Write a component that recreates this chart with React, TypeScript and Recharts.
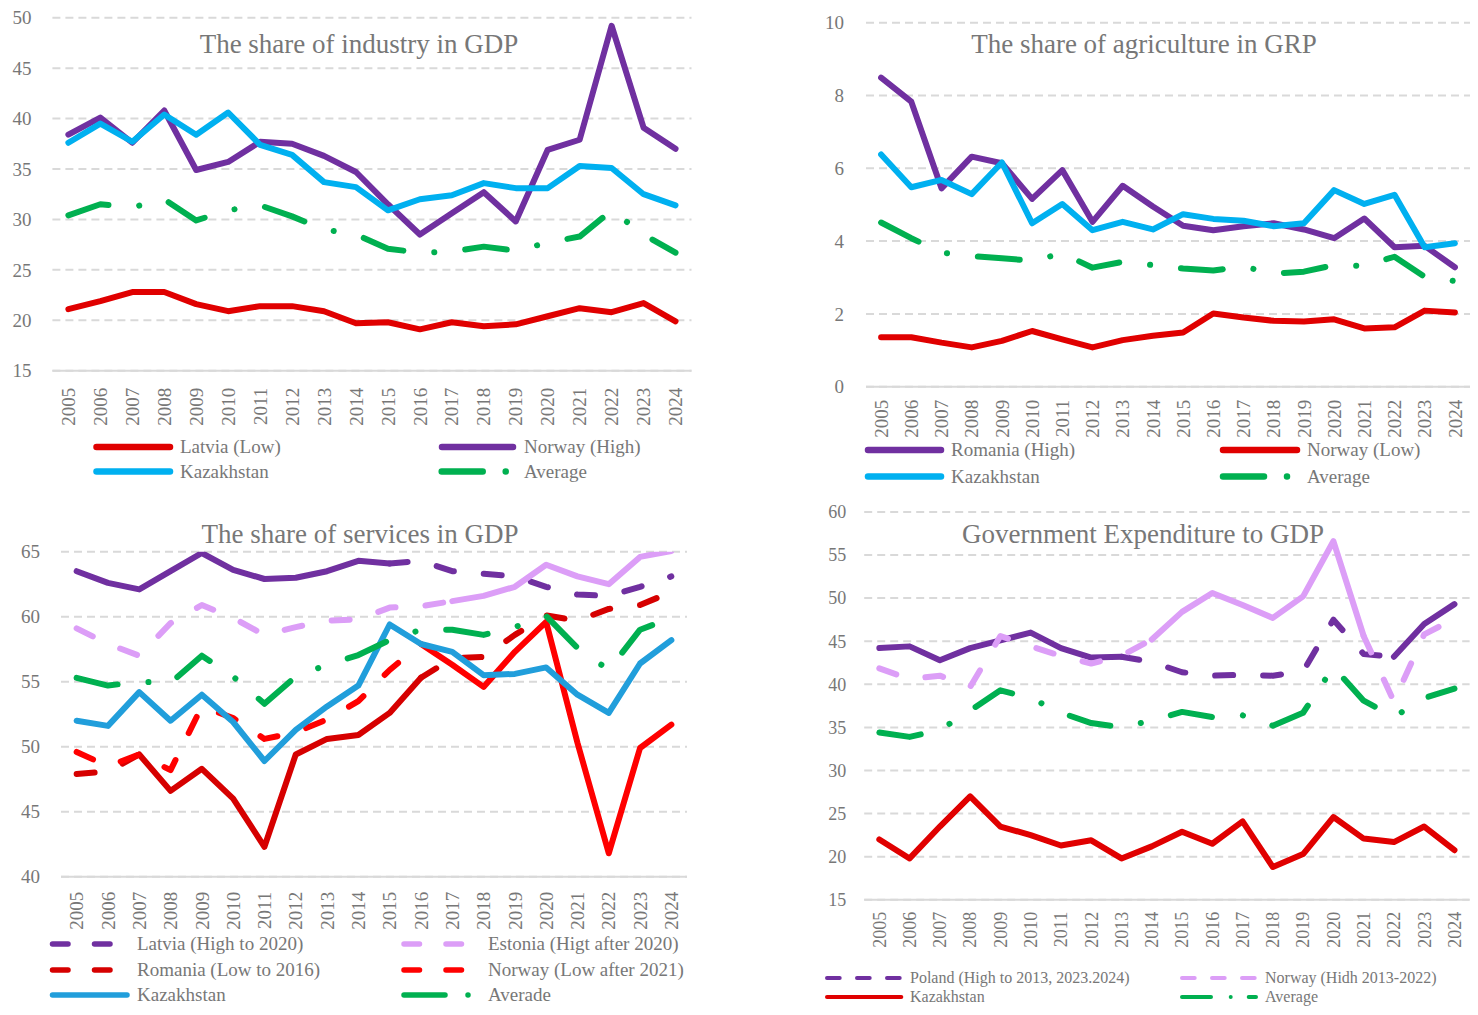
import { CartesianGrid, Line, LineChart, XAxis, YAxis } from "recharts";

const YEARS = [
  "2005", "2006", "2007", "2008", "2009", "2010", "2011", "2012", "2013", "2014",
  "2015", "2016", "2017", "2018", "2019", "2020", "2021", "2022", "2023", "2024",
];

// industry, % of GDP
const INDUSTRY_LATVIA = [21.1, 21.9, 22.8, 22.8, 21.6, 20.9, 21.4, 21.4, 20.9, 19.7, 19.8, 19.1, 19.8, 19.4, 19.6, 20.4, 21.2, 20.8, 21.7, 19.9];
const INDUSTRY_NORWAY = [38.4, 40.1, 37.6, 40.8, 34.9, 35.7, 37.7, 37.5, 36.3, 34.7, 31.5, 28.5, 30.6, 32.7, 29.8, 36.9, 37.9, 49.2, 39.1, 37.0];
const INDUSTRY_KAZ = [37.6, 39.5, 37.7, 40.4, 38.4, 40.6, 37.4, 36.4, 33.7, 33.2, 30.9, 32.0, 32.4, 33.6, 33.1, 33.1, 35.3, 35.1, 32.5, 31.4];
const INDUSTRY_AVG = [30.4, 31.5, 31.2, 32.0, 29.9, 30.9, 31.4, 30.3, 29.0, 28.5, 27.1, 26.7, 26.8, 27.3, 26.9, 27.7, 28.3, 30.9, 28.5, 26.7];

// agriculture, % of GRP
const AGRI_ROMANIA = [8.49, 7.83, 5.45, 6.32, 6.14, 5.16, 5.95, 4.53, 5.52, 4.95, 4.42, 4.3, 4.41, 4.49, 4.32, 4.08, 4.62, 3.83, 3.87, 3.28];
const AGRI_NORWAY = [1.36, 1.36, 1.21, 1.08, 1.26, 1.53, 1.3, 1.08, 1.28, 1.4, 1.49, 2.01, 1.9, 1.81, 1.79, 1.85, 1.6, 1.63, 2.09, 2.04];
const AGRI_KAZ = [6.38, 5.48, 5.68, 5.29, 6.16, 4.49, 5.02, 4.3, 4.53, 4.32, 4.74, 4.61, 4.56, 4.41, 4.49, 5.4, 5.02, 5.27, 3.83, 3.94];
const AGRI_AVG = [4.51, 4.08, 3.68, 3.59, 3.53, 3.46, 3.66, 3.27, 3.43, 3.34, 3.25, 3.19, 3.3, 3.11, 3.16, 3.34, 3.32, 3.57, 3.02, 2.9];

// services, % of GDP
const SERV_LATVIA = [63.5, 62.6, 62.1, 63.5, 64.9, 63.6, 62.9, 63.0, 63.5, 64.3, 64.1, 64.3, 63.5, 63.3, 63.1, 62.3, 61.7, 61.6, 62.3, 63.1];
const SERV_ESTONIA = [59.1, 57.9, 57.0, 59.5, 60.9, 59.9, 58.6, 59.2, 59.7, 59.8, 60.7, 60.8, 61.2, 61.6, 62.3, 64.0, 63.1, 62.5, 64.6, 65.05];
const SERV_ROMANIA = [47.9, 48.1, 49.4, 46.6, 48.3, 46.0, 42.3, 49.4, 50.6, 50.9, 52.6, 55.3, 56.8, 56.9, 58.6, 60.1, 59.7, 60.6, 60.9, 61.9];
const SERV_NORWAY = [49.6, 48.5, 49.4, 48.2, 53.1, 52.2, 50.6, 51.1, 52.1, 53.5, 55.9, 57.9, 56.3, 54.6, 57.3, 59.6, 50.3, 41.8, 49.9, 51.7];
const SERV_KAZ = [52.0, 51.6, 54.2, 52.0, 54.0, 51.9, 48.9, 51.3, 53.1, 54.7, 59.4, 57.9, 57.3, 55.5, 55.6, 56.1, 54.0, 52.6, 56.4, 58.2];
const SERV_AVG = [55.3, 54.7, 55.0, 54.9, 57.0, 55.4, 53.3, 55.4, 56.3, 57.05, 58.2, 59.0, 59.0, 58.6, 59.2, 60.05, 57.6, 55.9, 59.0, 59.9];

// government expenditure, % of GDP
const GOV_POLAND = [44.2, 44.4, 42.8, 44.2, 45.1, 46.0, 44.2, 43.1, 43.2, 42.6, 41.4, 41.0, 41.1, 41.0, 41.5, 47.5, 43.5, 43.2, 47.0, 49.3];
const GOV_NORWAY = [41.85, 40.6, 41.0, 39.7, 45.6, 44.4, 43.3, 42.4, 43.3, 45.2, 48.4, 50.6, 49.2, 47.7, 50.2, 56.6, 45.6, 38.0, 45.8, 47.6];
const GOV_KAZ = [22.0, 19.8, 23.5, 27.0, 23.5, 22.5, 21.3, 21.9, 19.8, 21.2, 22.9, 21.5, 24.1, 18.8, 20.3, 24.6, 22.1, 21.7, 23.5, 20.75];
const GOV_AVG = [34.4, 33.9, 34.7, 36.95, 39.3, 38.4, 36.7, 35.5, 35.0, 35.8, 36.8, 36.2, 36.4, 35.2, 36.7, 42.0, 38.1, 36.2, 38.4, 39.5];

const INDUSTRY_TICKS = [15, 20, 25, 30, 35, 40, 45, 50];
const AGRI_TICKS = [0, 2, 4, 6, 8, 10];
const SERV_TICKS = [40, 45, 50, 55, 60, 65];
const GOV_TICKS = [15, 20, 25, 30, 35, 40, 45, 50, 55, 60];

const FONT = '"Liberation Serif", "Times New Roman", serif';
const TEXT = "#777777";
const GRID = "#d9d9d9";
const PURPLE = "#7030a0";
const LILAC = "#dc9ef7";
const RED = "#e00000";
const DARK_RED = "#d60000";
const BRIGHT_RED = "#ff0000";
const CYAN = "#00b0f0";
const BLUE = "#219edb";
const GREEN = "#00b050";

const DASH = "18 30";
const DASH_DOT = "42 31 0.1 31";

type Frame = { x: number; y: number; w: number; h: number; left: number; right: number; top: number; bottom: number };

// keep only the points whose index falls in one of the ranges
function pick(values: number[], ranges: [number, number][]) {
  return values.map((v, i) => (ranges.some(([a, b]) => i >= a && i <= b) ? v : null));
}

function buildRows(cols: Record<string, (number | null)[]>) {
  return YEARS.map((year, i) => {
    const row: Record<string, string | number | null> = { year };
    Object.entries(cols).forEach(([key, values]) => {
      row[key] = values[i];
    });
    return row;
  });
}

const industryRows = buildRows({ latvia: INDUSTRY_LATVIA, norway: INDUSTRY_NORWAY, kaz: INDUSTRY_KAZ, avg: INDUSTRY_AVG });
const agriRows = buildRows({ romania: AGRI_ROMANIA, norway: AGRI_NORWAY, kaz: AGRI_KAZ, avg: AGRI_AVG });
const servRows = buildRows({
  latviaSolid: pick(SERV_LATVIA, [[0, 10]]),
  latviaDash: pick(SERV_LATVIA, [[10, 19]]),
  estoniaDash: pick(SERV_ESTONIA, [[0, 12]]),
  estoniaSolid: pick(SERV_ESTONIA, [[12, 19]]),
  romaniaDash: pick(SERV_ROMANIA, [[0, 2], [11, 19]]),
  romaniaSolid: pick(SERV_ROMANIA, [[2, 11]]),
  norwayDash: pick(SERV_NORWAY, [[0, 11]]),
  norwaySolid: pick(SERV_NORWAY, [[11, 19]]),
  kaz: SERV_KAZ,
  avg: SERV_AVG,
});
const govRows = buildRows({
  polandSolid: pick(GOV_POLAND, [[0, 8], [17, 19]]),
  polandDash: pick(GOV_POLAND, [[8, 17]]),
  norwayDash: pick(GOV_NORWAY, [[0, 9], [16, 19]]),
  norwaySolid: pick(GOV_NORWAY, [[9, 16]]),
  kaz: GOV_KAZ,
  avg: GOV_AVG,
});

function series(key: string, color: string, dash?: string) {
  return (
    <Line
      key={key}
      type="linear"
      dataKey={key}
      stroke={color}
      strokeWidth={6}
      strokeDasharray={dash}
      strokeLinecap="round"
      strokeLinejoin="round"
      dot={false}
      activeDot={false}
      connectNulls={false}
      isAnimationActive={false}
    />
  );
}

function YearTick({ x, y, payload, gap, size }: any) {
  return (
    <text
      transform={`translate(${x},${y + gap}) rotate(-90)`}
      textAnchor="end"
      dy="0.35em"
      fill={TEXT}
      fontSize={size}
      fontFamily={FONT}
    >
      {payload.value}
    </text>
  );
}

function Panel({ frame, domain, ticks, rows, labelSize, yGap, yearGap, children }: any) {
  const band = (frame.right - frame.left) / YEARS.length;
  return (
    <div style={{ position: "absolute", left: frame.x, top: frame.y }}>
      <LineChart
        width={frame.w}
        height={frame.h}
        data={rows}
        margin={{ top: frame.top - frame.y, right: frame.x + frame.w - frame.right, bottom: 0, left: 0 }}
      >
        <CartesianGrid vertical={false} stroke={GRID} strokeWidth={2} strokeDasharray="8 5" />
        <XAxis
          dataKey="year"
          interval={0}
          height={frame.y + frame.h - frame.bottom}
          padding={{ left: band / 2, right: band / 2 }}
          axisLine={{ stroke: GRID, strokeWidth: 2 }}
          tickLine={false}
          tickSize={0}
          tickMargin={0}
          tick={(p: any) => <YearTick {...p} gap={yearGap} size={labelSize} />}
        />
        <YAxis
          type="number"
          width={frame.left - frame.x}
          domain={domain}
          ticks={ticks}
          interval={0}
          allowDataOverflow
          axisLine={false}
          tickLine={false}
          tickSize={0}
          tickMargin={yGap}
          tick={{ fill: TEXT, fontSize: labelSize, fontFamily: FONT }}
        />
        {children}
      </LineChart>
    </div>
  );
}

const INDUSTRY_FRAME: Frame = { x: 0, y: 0, w: 700, h: 440, left: 52.4, right: 691.5, top: 17.7, bottom: 370.7 };
const AGRI_FRAME: Frame = { x: 740, y: 0, w: 738, h: 440, left: 866, right: 1470, top: 22.7, bottom: 386.7 };
const SERV_FRAME: Frame = { x: 0, y: 500, w: 700, h: 440, left: 61, right: 687, top: 551.7, bottom: 876.7 };
const GOV_FRAME: Frame = { x: 740, y: 500, w: 738, h: 465, left: 864.2, right: 1469.6, top: 511.9, bottom: 899.8 };

const TITLES = [
  { text: "The share of industry in GDP", x: 359, y: 53 },
  { text: "The share of agriculture in GRP", x: 1144, y: 53 },
  { text: "The share of services in GDP", x: 360, y: 543 },
  { text: "Government Expenditure to GDP", x: 1143, y: 543 },
];

type LegendItem = { label: string; color: string; x1: number; x2: number; y: number; tx: number; dash?: string };

const LEGEND_INDUSTRY: LegendItem[] = [
  { label: "Latvia (Low)", color: RED, x1: 96.5, x2: 170, y: 447, tx: 180 },
  { label: "Norway (High)", color: PURPLE, x1: 442, x2: 513, y: 447, tx: 524 },
  { label: "Kazakhstan", color: CYAN, x1: 96.5, x2: 170, y: 471.5, tx: 180 },
  { label: "Average", color: GREEN, x1: 441.7, x2: 513, y: 471.5, tx: 524, dash: "41 23 0.01 100" },
];

const LEGEND_AGRI: LegendItem[] = [
  { label: "Romania (High)", color: PURPLE, x1: 868, x2: 941, y: 450, tx: 951 },
  { label: "Norway (Low)", color: RED, x1: 1223, x2: 1297, y: 450, tx: 1307 },
  { label: "Kazakhstan", color: CYAN, x1: 868, x2: 941, y: 476.5, tx: 951 },
  { label: "Average", color: GREEN, x1: 1223, x2: 1297, y: 476.5, tx: 1307, dash: "41 23 0.01 100" },
];

const LEGEND_SERV: LegendItem[] = [
  { label: "Latvia (High to 2020)", color: PURPLE, x1: 52.5, x2: 127, y: 944, tx: 137, dash: "15.5 26.5" },
  { label: "Estonia (Higt after 2020)", color: LILAC, x1: 404, x2: 478, y: 944, tx: 488, dash: "15.5 26.5" },
  { label: "Romania (Low to 2016)", color: DARK_RED, x1: 52.5, x2: 127, y: 970, tx: 137, dash: "15.5 26.5" },
  { label: "Norway (Low after 2021)", color: BRIGHT_RED, x1: 404, x2: 478, y: 970, tx: 488, dash: "15.5 26.5" },
  { label: "Kazakhstan", color: BLUE, x1: 52.5, x2: 127, y: 995, tx: 137 },
  { label: "Averade", color: GREEN, x1: 404, x2: 478, y: 995, tx: 488, dash: "41 23 0.01 100" },
];

const LEGEND_GOV: LegendItem[] = [
  { label: "Poland (High to 2013, 2023.2024)", color: PURPLE, x1: 827, x2: 901.3, y: 978, tx: 910, dash: "12.7 17.3" },
  { label: "Norway (Hidh 2013-2022)", color: LILAC, x1: 1182, x2: 1256, y: 978, tx: 1265, dash: "12.7 17.3" },
  { label: "Kazakhstan", color: RED, x1: 827, x2: 901.3, y: 997, tx: 910 },
  { label: "Average", color: GREEN, x1: 1182, x2: 1256, y: 997, tx: 1265, dash: "29 19.7 0.01 18 29" },
];

function LegendRows({ items, width, size }: { items: LegendItem[]; width: number; size: number }) {
  return (
    <g>
      {items.map((item) => (
        <g key={item.label}>
          <line
            x1={item.x1}
            x2={item.x2}
            y1={item.y}
            y2={item.y}
            stroke={item.color}
            strokeWidth={width}
            strokeLinecap="round"
            strokeDasharray={item.dash}
          />
          <text x={item.tx} y={item.y} dy="0.33em" fill={TEXT} fontSize={size} fontFamily={FONT}>
            {item.label}
          </text>
        </g>
      ))}
    </g>
  );
}

export default function App() {
  return (
    <div style={{ position: "absolute", left: 0, top: 0, width: 1478, height: 1015, background: "#fff", overflow: "hidden" }}>
      <svg width={1478} height={1015} style={{ position: "absolute", left: 0, top: 0 }}>
        {TITLES.map((t) => (
          <text key={t.text} x={t.x} y={t.y} textAnchor="middle" fill={TEXT} fontSize={27} fontFamily={FONT}>
            {t.text}
          </text>
        ))}
        <LegendRows items={LEGEND_INDUSTRY} width={6.5} size={19} />
        <LegendRows items={LEGEND_AGRI} width={6.5} size={19} />
        <LegendRows items={LEGEND_SERV} width={5.5} size={19} />
        <LegendRows items={LEGEND_GOV} width={4} size={16} />
      </svg>

      <Panel frame={INDUSTRY_FRAME} domain={[15, 50]} ticks={INDUSTRY_TICKS} rows={industryRows} labelSize={19} yGap={21} yearGap={17}>
        {series("latvia", RED)}
        {series("norway", PURPLE)}
        {series("kaz", CYAN)}
        {series("avg", GREEN, DASH_DOT)}
      </Panel>

      <Panel frame={AGRI_FRAME} domain={[0, 10]} ticks={AGRI_TICKS} rows={agriRows} labelSize={19} yGap={22} yearGap={13}>
        {series("romania", PURPLE)}
        {series("norway", RED)}
        {series("kaz", CYAN)}
        {series("avg", GREEN, DASH_DOT)}
      </Panel>

      <Panel frame={SERV_FRAME} domain={[40, 65]} ticks={SERV_TICKS} rows={servRows} labelSize={19} yGap={21} yearGap={15}>
        {series("latviaSolid", PURPLE)}
        {series("latviaDash", PURPLE, DASH)}
        {series("estoniaDash", LILAC, DASH)}
        {series("estoniaSolid", LILAC)}
        {series("romaniaDash", DARK_RED, DASH)}
        {series("romaniaSolid", DARK_RED)}
        {series("norwayDash", BRIGHT_RED, DASH)}
        {series("norwaySolid", BRIGHT_RED)}
        {series("kaz", BLUE)}
        {series("avg", GREEN, DASH_DOT)}
      </Panel>

      <Panel frame={GOV_FRAME} domain={[15, 60]} ticks={GOV_TICKS} rows={govRows} labelSize={18} yGap={18} yearGap={12}>
        {series("polandSolid", PURPLE)}
        {series("polandDash", PURPLE, DASH)}
        {series("norwayDash", LILAC, DASH)}
        {series("norwaySolid", LILAC)}
        {series("kaz", RED)}
        {series("avg", GREEN, DASH_DOT)}
      </Panel>
    </div>
  );
}
